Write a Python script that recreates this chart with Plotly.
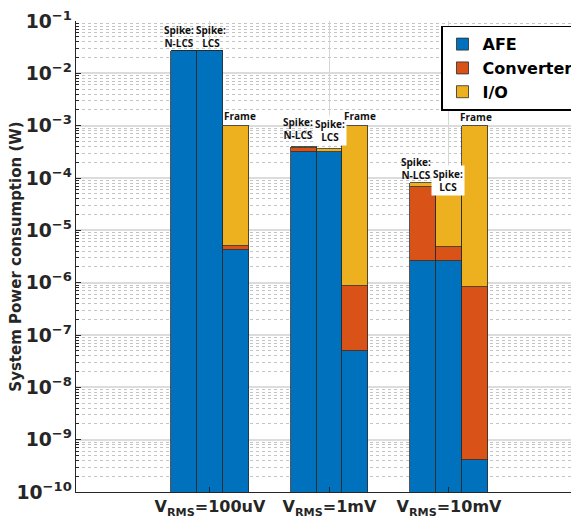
import plotly.graph_objects as go

# ---- data ----
groups = ["V<sub>RMS</sub>=100uV", "V<sub>RMS</sub>=1mV", "V<sub>RMS</sub>=10mV"]
bar_kinds = ["Spike: N-LCS", "Spike: LCS", "Frame"]
# per group: [N-LCS, LCS, Frame]
afe = [[2.72e-2, 2.72e-2, 4.2e-6],
       [3.1e-4, 3.1e-4, 4.9e-8],
       [2.6e-6, 2.6e-6, 4.0e-10]]
converter = [[6.6e-5, 2.2e-6, 8.3e-7],
             [6.6e-5, 2.2e-6, 8.3e-7],
             [6.6e-5, 2.2e-6, 8.4e-7]]
io = [[1.1e-5, 4.5e-5, 9.8e-4],
      [1.1e-5, 4.5e-5, 9.8e-4],
      [1.1e-5, 4.5e-5, 9.8e-4]]
series_names = ["AFE", "Converter", "I/O"]
series_colors = ["#0072BD", "#D95319", "#EDB120"]

# text labels above bars: (text, x in data units, log10(y), white background)
labels = [
    ("Spike:<br>N-LCS", 0.742, -1.298, False),
    ("Spike:<br>LCS", 1.005, -1.298, False),
    ("Frame", 1.251, -2.815, False),
    ("Spike:<br>N-LCS", 1.740, -3.061, False),
    ("Spike:<br>LCS", 2.003, -3.089, True),
    ("Frame", 2.255, -2.815, False),
    ("Spike:<br>N-LCS", 2.720, -3.819, False),
    ("Spike:<br>LCS", 2.990, -4.047, True),
    ("Frame", 3.226, -2.834, False),
]

bar_w = 0.216
offsets = [-bar_w, 0.0, bar_w]

xs = []
for gi in range(len(groups)):
    for bi in range(len(bar_kinds)):
        xs.append(gi + 1 + offsets[bi])

fig = go.Figure()
for name, color, data in zip(series_names, series_colors, [afe, converter, io]):
    vals = [v for g in data for v in g]
    fig.add_trace(go.Bar(
        x=xs, y=vals, name="<b>" + name + "</b>", width=bar_w,
        marker=dict(color=color, line=dict(color="#2b2b2b", width=0.8)),
    ))

for text, x, ly, bg in labels:
    fig.add_annotation(
        x=x, y=ly, xref="x", yref="y", text="<b>" + text + "</b>", showarrow=False,
        xanchor="center", yanchor="middle",
        font=dict(family="Open Sans", size=10, color="#111111"),
        bgcolor="white" if bg else "rgba(0,0,0,0)", borderpad=1,
    )

fig.add_annotation(
    x=-0.121, y=0.5, xref="paper", yref="paper",
    text="<b>System Power consumption (W)</b>", showarrow=False,
    textangle=-90, xanchor="center", yanchor="middle",
    font=dict(family="DejaVu Sans", size=15, color="#262626"),
)

# page body has an 8px margin; size the figure so the plot area lands where the reference has it
fig.update_layout(
    width=571, height=511,
    margin=dict(l=68, r=0, t=10, b=26),
    paper_bgcolor="white", plot_bgcolor="white",
    barmode="stack", bargap=0,
    font=dict(family="DejaVu Sans", color="#262626"),
    legend=dict(
        x=1.0, y=0.99, xanchor="right", yanchor="top",
        traceorder="normal",
        bgcolor="white", bordercolor="#000000", borderwidth=1.5,
        font=dict(family="DejaVu Sans", size=16, color="#000000"),
        itemwidth=30, tracegroupgap=0,
    ),
    showlegend=True,
)

fig.update_xaxes(
    range=[-0.121, 4.088],
    tickvals=[1, 2, 3], ticktext=["<b>" + g + "</b>" for g in groups],
    tickfont=dict(family="DejaVu Sans", size=16, color="#262626"),
    ticks="inside", ticklen=5, tickcolor="#262626",
    showgrid=True, gridcolor="#d6d6d6", gridwidth=1,
    showline=True, linecolor="#262626", linewidth=1.3,
    zeroline=False, mirror=False, ticklabeloverflow="allow",
)

fig.update_yaxes(
    type="log", range=[-10, -1], dtick=1,
    exponentformat="power", showexponent="all",
    tickfont=dict(family="DejaVu Sans", size=15, color="#262626", weight="bold"),
    ticks="inside", ticklen=5, tickcolor="#262626",
    showgrid=True, gridcolor="#dcdcdc", gridwidth=2,
    showline=True, linecolor="#262626", linewidth=1.3,
    zeroline=False, ticklabeloverflow="allow",
    minor=dict(dtick="D1", ticks="inside", ticklen=3, tickcolor="#262626",
               showgrid=True, gridcolor="#c4c4c4", griddash="dot", gridwidth=1),
)

fig.write_html("out.html")
